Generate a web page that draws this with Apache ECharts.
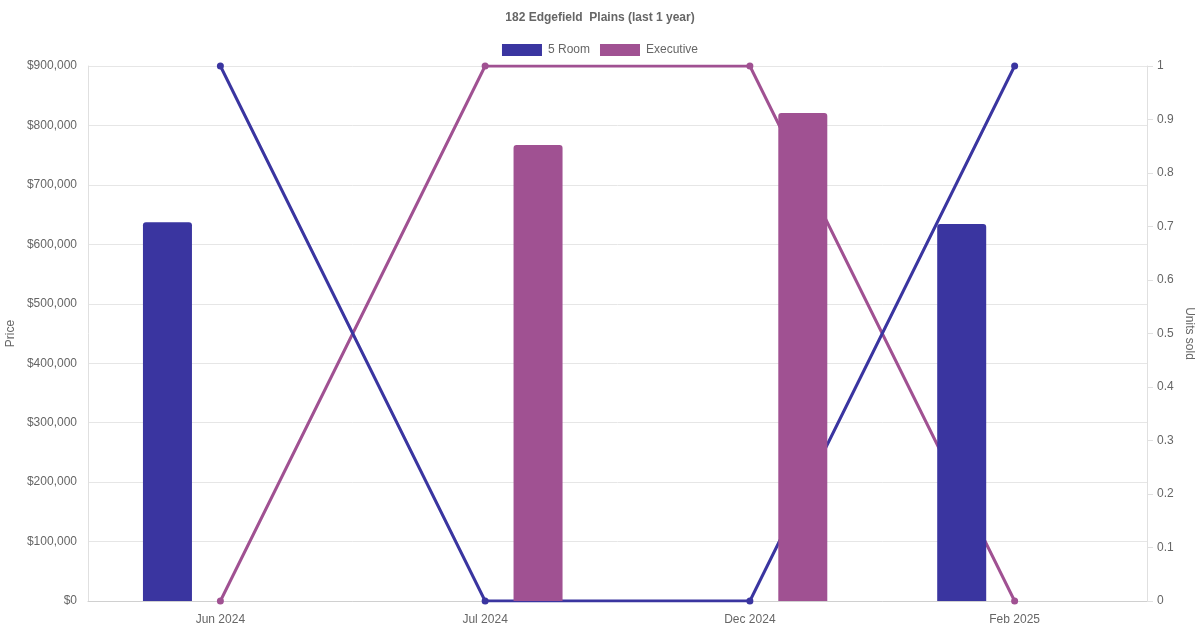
<!DOCTYPE html>
<html>
<head>
<meta charset="utf-8">
<script src="https://cdn.jsdelivr.net/npm/echarts@6/dist/echarts.min.js"></script>
<style>
html,body{margin:0;padding:0;background:#fff;}
#chart{width:1200px;height:630px;}
</style>
</head>
<body>
<div id="chart"></div>
<script>
const categories = ['Jun 2024', 'Jul 2024', 'Dec 2024', 'Feb 2025'];
const fiveRoomPrice = [637000, null, null, 634000];
const executivePrice = [null, 767000, 821000, null];
const fiveRoomUnits = [1, 0, 0, 1];
const executiveUnits = [0, 1, 1, 0];

const C5 = '#3a35a0';
const CE = '#a05192';
const font = '"Liberation Sans", Arial, sans-serif';
const txt = '#666';

const chart = echarts.init(document.getElementById('chart'));
chart.setOption({
  animation: false,
  textStyle: { fontFamily: font },
  title: {
    text: '182 Edgefield  Plains (last 1 year)',
    left: 'center', top: 7,
    textStyle: { fontSize: 12, fontWeight: 'bold', color: txt, fontFamily: font }
  },
  legend: {
    top: 39, left: 'center',
    itemWidth: 40, itemHeight: 12, itemGap: 10,
    icon: 'rect',
    textStyle: { fontSize: 12, color: txt, fontFamily: font, padding: [0, 0, 0, 1] },
    data: ['5 Room', 'Executive']
  },
  grid: { left: 88, right: 53, top: 66, bottom: 29, containLabel: false, outerBoundsMode: 'none' },
  xAxis: {
    type: 'category',
    data: categories,
    boundaryGap: true,
    axisLine: { show: true, lineStyle: { color: '#d0d0d0' } },
    axisTick: { show: false },
    axisLabel: { color: txt, fontSize: 12, margin: 13, fontFamily: font },
    splitLine: { show: false }
  },
  yAxis: [
    {
      type: 'value', min: 0, max: 900000, interval: 100000,
      name: 'Price', nameLocation: 'middle', nameGap: 71, nameRotate: 90,
      nameMoveOverlap: false,
      nameTextStyle: { color: txt, fontSize: 12, fontFamily: font },
      axisLine: { show: true, lineStyle: { color: '#e0e0e0' } },
      axisTick: { show: false },
      axisLabel: {
        color: txt, fontSize: 12, margin: 11, fontFamily: font,
        formatter: v => '$' + v.toLocaleString('en-US')
      },
      splitLine: { show: true, lineStyle: { color: '#e6e6e6' } }
    },
    {
      type: 'value', min: 0, max: 1, interval: 0.1, position: 'right',
      name: 'Units sold', nameLocation: 'middle', nameGap: 36, nameRotate: -90,
      nameMoveOverlap: false,
      nameTextStyle: { color: txt, fontSize: 12, fontFamily: font },
      axisLine: { show: true, lineStyle: { color: '#e0e0e0' } },
      axisTick: { show: true, length: 6, lineStyle: { color: '#e0e0e0' } },
      axisLabel: {
        color: txt, fontSize: 12, margin: 10, fontFamily: font,
        formatter: v => String(Math.round(v * 10) / 10)
      },
      splitLine: { show: false }
    }
  ],
  series: [
    {
      name: 'Executive', type: 'line', yAxisIndex: 1, data: executiveUnits,
      z: 2, symbol: 'circle', symbolSize: 7,
      lineStyle: { color: CE, width: 3 }, itemStyle: { color: CE }
    },
    {
      name: '5 Room', type: 'line', yAxisIndex: 1, data: fiveRoomUnits,
      z: 2, symbol: 'circle', symbolSize: 7,
      lineStyle: { color: C5, width: 3 }, itemStyle: { color: C5 }
    },
    {
      name: '5 Room', type: 'bar', yAxisIndex: 0, data: fiveRoomPrice,
      z: 3, barWidth: 49, barGap: '116%',
      itemStyle: { color: C5, borderRadius: [3, 3, 0, 0] }
    },
    {
      name: 'Executive', type: 'bar', yAxisIndex: 0, data: executivePrice,
      z: 3, barWidth: 49, barGap: '116%',
      itemStyle: { color: CE, borderRadius: [3, 3, 0, 0] }
    }
  ]
});
</script>
</body>
</html>
